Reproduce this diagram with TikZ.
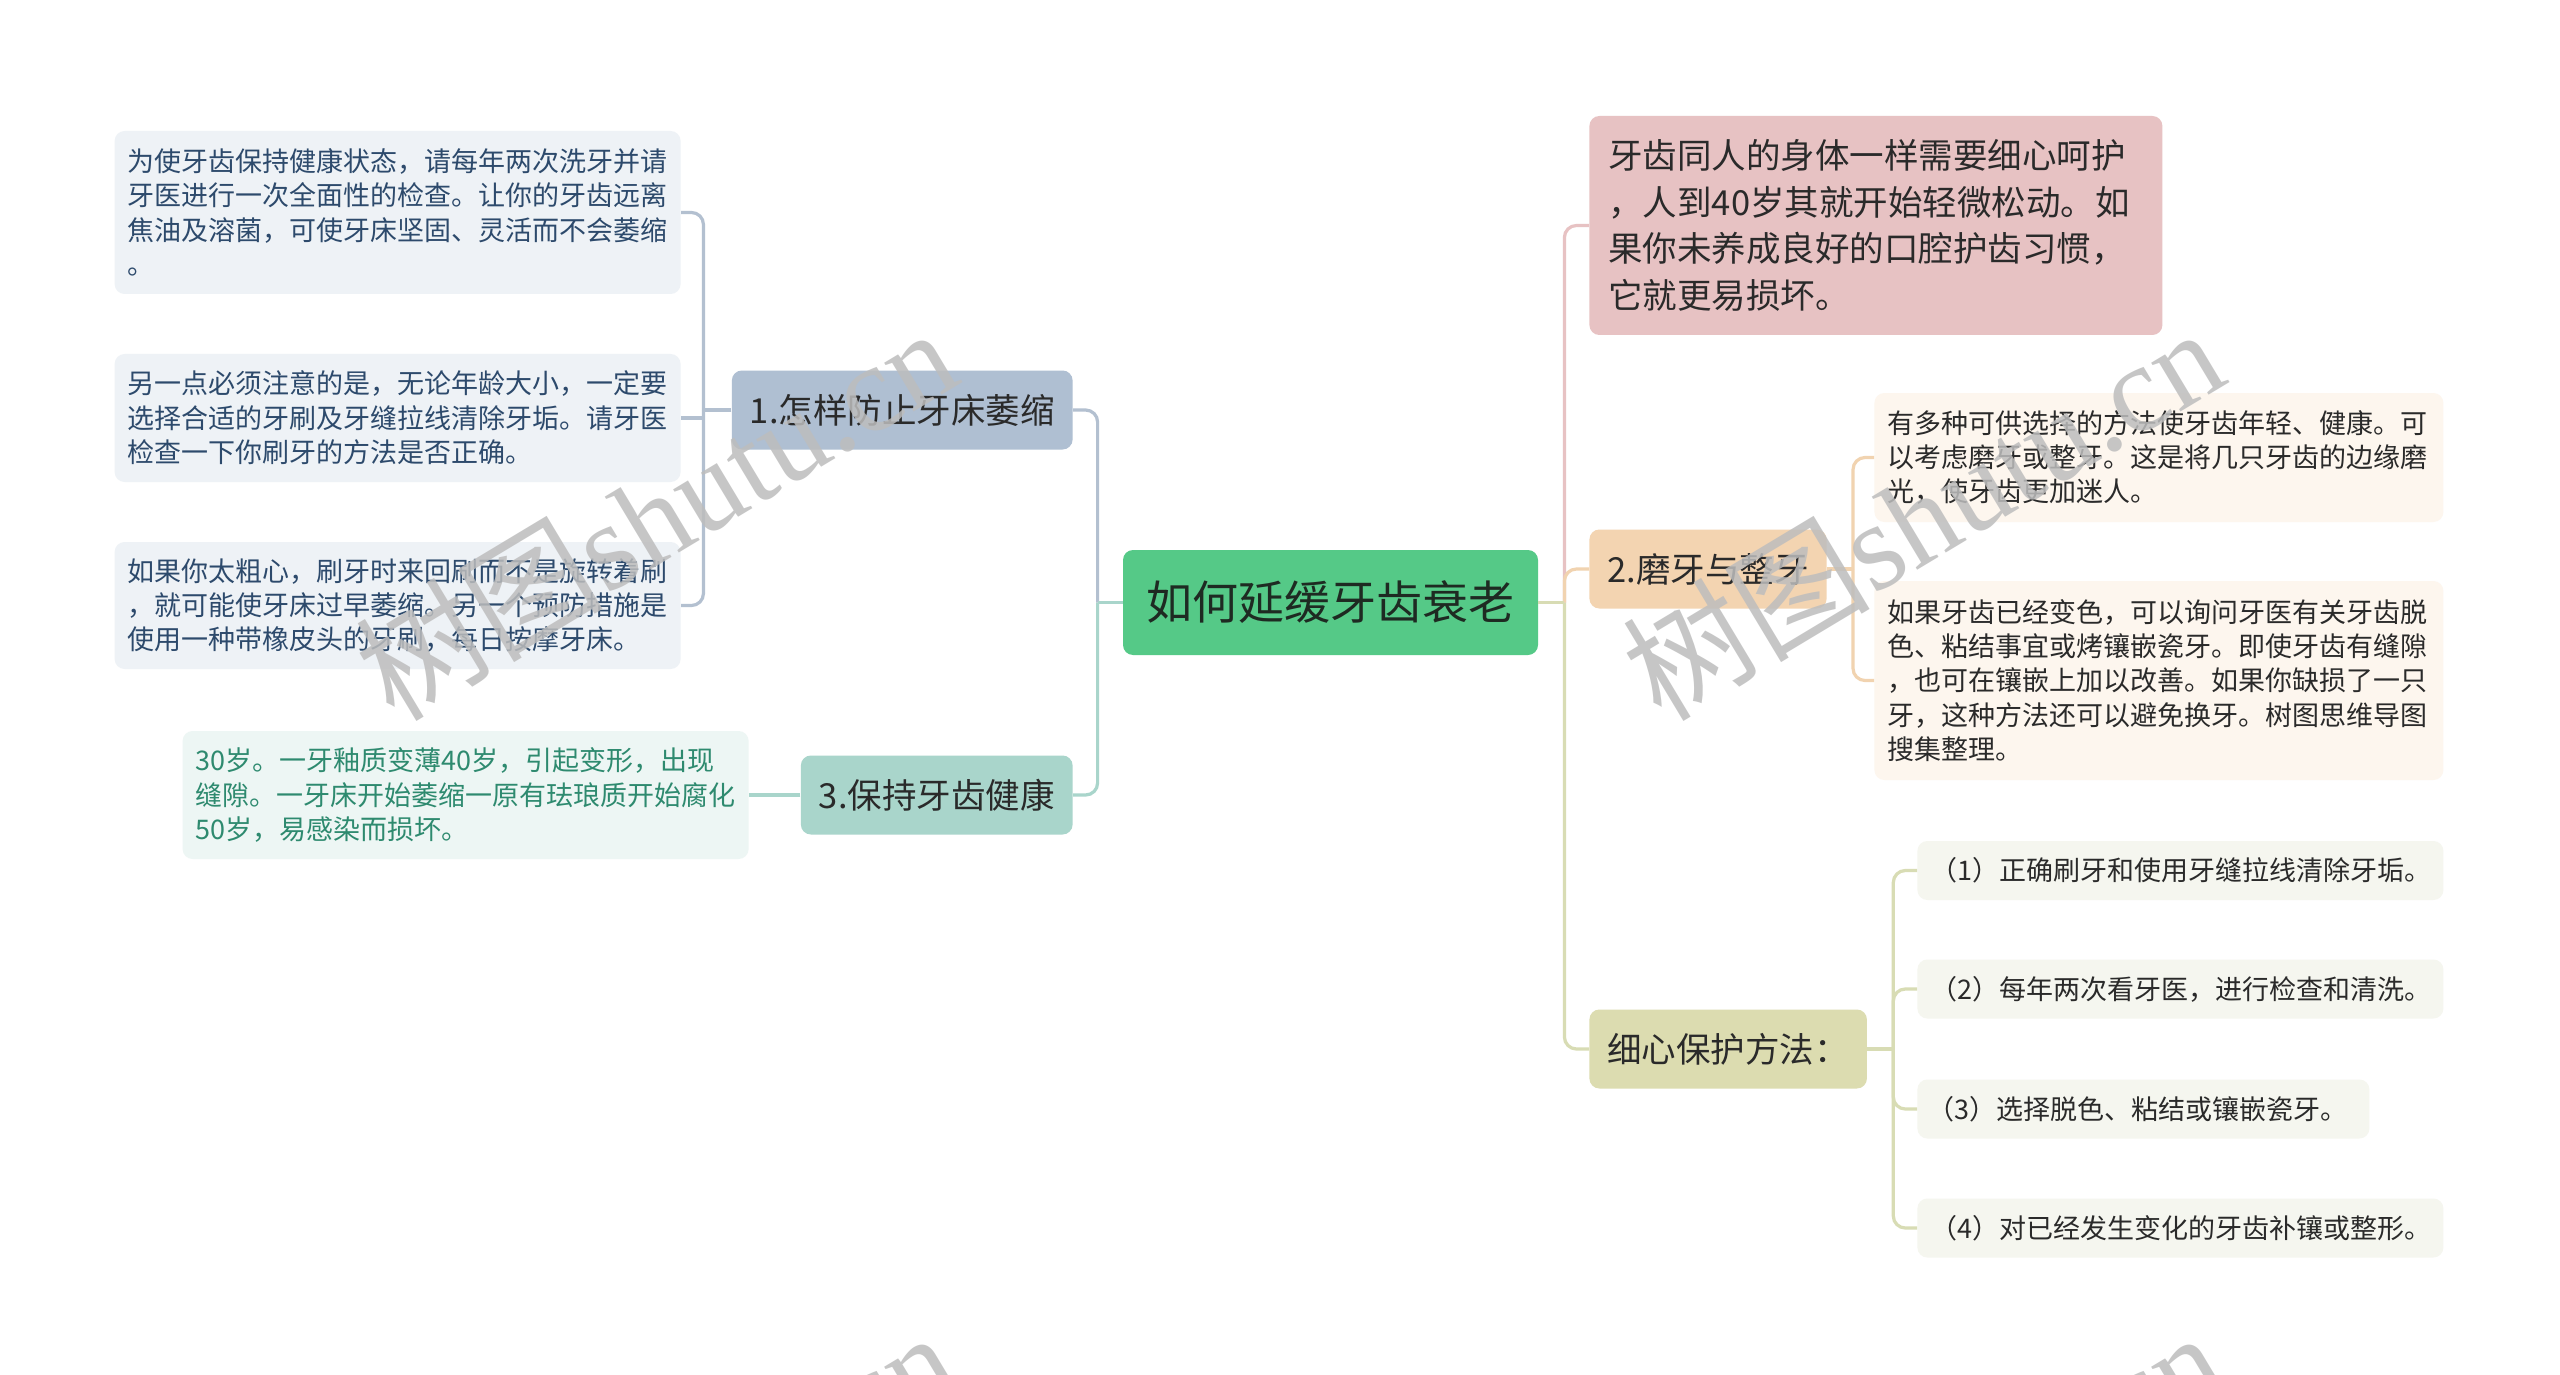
\documentclass[tikz,border=0pt]{standalone}
\usepackage{fontspec}
\setmainfont{Noto Sans CJK SC}
\newfontfamily\wmlat{Liberation Serif}
\usetikzlibrary{calc}
\definecolor{rootfill}{HTML}{55C987}
\definecolor{roottxt}{HTML}{1E2A22}
\definecolor{bluefill}{HTML}{AFBFD2}
\definecolor{tealfill}{HTML}{A9D5CB}
\definecolor{pinkfill}{HTML}{E7C2C3}
\definecolor{orangefill}{HTML}{F3D4B1}
\definecolor{olivefill}{HTML}{DCDCB0}
\definecolor{leafA}{HTML}{EEF2F6}
\definecolor{leafB}{HTML}{EDF6F4}
\definecolor{leafO}{HTML}{FDF6EE}
\definecolor{leafL}{HTML}{F5F6EF}
\definecolor{txtA}{HTML}{2D4A6C}
\definecolor{txtB}{HTML}{2E8A6F}
\definecolor{txtM}{HTML}{2A2A2A}
\definecolor{lineA}{HTML}{B3C0D0}
\definecolor{lineT}{HTML}{A9D5CB}
\definecolor{lineP}{HTML}{E7C2C3}
\definecolor{lineO}{HTML}{F1D3B0}
\definecolor{lineL}{HTML}{D8DCB4}
\definecolor{wmgray}{HTML}{BDBDBD}
\begin{document}
\begin{tikzpicture}[x=0.5pt,y=-0.5pt,
  box/.style={rounded corners=5pt, inner ysep=0pt, align=left},
  mainbox/.style={box, inner xsep=9pt, minimum height=39.5pt, text=txtM, font=\fontsize{17.25pt}{23pt}\selectfont},
  leafbox/.style={box, inner xsep=6.5pt, font=\fontsize{13.5pt}{17.2pt}\selectfont},
  conn/.style={line width=1.6pt, rounded corners=6pt},
  wm/.style={text=wmgray, text opacity=0.85, font=\fontsize{62pt}{66pt}\selectfont, inner sep=0pt}
]
\path[use as bounding box, fill=white] (0,0) rectangle (2560,1375);
\clip (0,0) rectangle (2560,1375);

% root
\node[box, fill=rootfill, text=roottxt, minimum width=207.5pt, minimum height=52.5pt, align=center, font=\fontsize{23pt}{28pt}\selectfont] (root) at (1330.5,602.5) {如何延缓牙齿衰老};

% left branch
\node[mainbox, fill=bluefill, minimum width=170pt, anchor=east] (n1) at (1073,410) {1.怎样防止牙床萎缩};
\node[mainbox, fill=tealfill, minimum width=135.5pt, anchor=east] (n3) at (1073,795) {3.保持牙齿健康};

\node[leafbox, fill=leafA, text=txtA, text width=270pt, minimum height=81.5pt, anchor=east] (a1) at (681,212.5) {为使牙齿保持健康状态，请每年两次洗牙并请\\牙医进行一次全面性的检查。让你的牙齿远离\\焦油及溶菌，可使牙床坚固、灵活而不会萎缩\\。};
\node[leafbox, fill=leafA, text=txtA, text width=270pt, minimum height=64pt, anchor=east] (a2) at (681,418) {另一点必须注意的是，无论年龄大小，一定要\\选择合适的牙刷及牙缝拉线清除牙垢。请牙医\\检查一下你刷牙的方法是否正确。};
\node[leafbox, fill=leafA, text=txtA, text width=270pt, minimum height=63.5pt, anchor=east] (a3) at (681,605.5) {如果你太粗心，刷牙时来回刷而不是旋转着刷\\，就可能使牙床过早萎缩。另一个预防措施是\\使用一种带橡皮头的牙刷，每日按摩牙床。};
\node[leafbox, fill=leafB, text=txtB, text width=270pt, minimum height=64pt, anchor=east] (b1) at (749,795) {30岁。一牙釉质变薄40岁，引起变形，出现\\缝隙。一牙床开始萎缩一原有珐琅质开始腐化\\50岁，易感染而损坏。};

% right branch
\node[box, fill=pinkfill, text=txtM, inner xsep=9.5pt, text width=267.5pt, minimum height=109.5pt, font=\fontsize{17.25pt}{23.2pt}\selectfont, anchor=west] (p1) at (1589,225.5) {牙齿同人的身体一样需要细心呵护\\，人到40岁其就开始轻微松动。如\\果你未养成良好的口腔护齿习惯，\\它就更易损坏。};
\node[mainbox, fill=orangefill, minimum width=117.5pt, anchor=west] (n2) at (1589,569) {2.磨牙与整牙};
\node[mainbox, fill=olivefill, minimum width=138pt, anchor=west] (ol) at (1589,1049) {细心保护方法：};

\node[leafbox, fill=leafO, text=txtM, text width=271.5pt, minimum height=64.5pt, anchor=west] (o1) at (1874,457.5) {有多种可供选择的方法使牙齿年轻、健康。可\\以考虑磨牙或整牙。这是将几只牙齿的边缘磨\\光，使牙齿更加迷人。};
\node[leafbox, fill=leafO, text=txtM, text width=271.5pt, minimum height=99.5pt, anchor=west] (o2) at (1874,680.5) {如果牙齿已经变色，可以询问牙医有关牙齿脱\\色、粘结事宜或烤镶嵌瓷牙。即使牙齿有缝隙\\，也可在镶嵌上加以改善。如果你缺损了一只\\牙，这种方法还可以避免换牙。树图思维导图\\搜集整理。};

\node[leafbox, fill=leafL, text=txtM, text width=250pt, minimum height=29.5pt, anchor=west] (l1) at (1917,870.5) {（1）正确刷牙和使用牙缝拉线清除牙垢。};
\node[leafbox, fill=leafL, text=txtM, text width=250pt, minimum height=29.5pt, anchor=west] (l2) at (1917,989) {（2）每年两次看牙医，进行检查和清洗。};
\node[leafbox, fill=leafL, text=txtM, inner xsep=5pt, text width=216pt, minimum height=29.5pt, anchor=west] (l3) at (1917,1109) {（3）选择脱色、粘结或镶嵌瓷牙。};
\node[leafbox, fill=leafL, text=txtM, text width=250pt, minimum height=29.5pt, anchor=west] (l4) at (1917,1228) {（4）对已经发生变化的牙齿补镶或整形。};

% connectors left
\coordinate (jl) at ($(root.west)+(-25,0)$);
\draw[conn, lineA] (jl) |- (n1.east);
\draw[conn, lineT] (jl) |- (n3.east);
\draw[conn, lineT] (root.west) -- (jl);

\coordinate (ja) at ($(n1.west)+(-28,0)$);
\draw[conn, lineA] (n1.west) -- (ja);
\draw[conn, lineA] (ja) |- (a1.east);
\draw[conn, lineA] (ja) |- (a3.east);
\draw[conn, lineA] (ja |- a2.east) -- (a2.east);

\draw[conn, lineT] (n3.west) -- (b1.east);

% connectors right
\coordinate (jr) at ($(root.east)+(26,0)$);
\draw[conn, lineP] (jr) |- (p1.west);
\draw[conn, lineO] (jr) |- (n2.west);
\draw[conn, lineL] (jr) |- (ol.west);
\draw[conn, lineL] (root.east) -- (jr);

\coordinate (jo) at ($(n2.east)+(26,0)$);
\draw[conn, lineO] (n2.east) -- (jo);
\draw[conn, lineO] (jo) |- (o1.west);
\draw[conn, lineO] (jo) |- (o2.west);

\coordinate (jv) at ($(ol.east)+(26,0)$);
\draw[conn, lineL] (ol.east) -- (jv);
\draw[conn, lineL] (jv) |- (l1.west);
\draw[conn, lineL] (jv) |- (l2.west);
\draw[conn, lineL] (jv) |- (l3.west);
\draw[conn, lineL] (jv) |- (l4.west);

% watermarks
\node[wm, rotate=31] (wm1) at (655,512) {树图{\wmlat shutu.cn}};
\node[wm, rotate=31] (wm2) at (1922,512) {树图{\wmlat shutu.cn}};
\node[wm, rotate=31] (wm3) at (655,1516) {树图{\wmlat shutu.cn}};
\node[wm, rotate=31] (wm4) at (1922,1516) {树图{\wmlat shutu.cn}};
\end{tikzpicture}
\end{document}
